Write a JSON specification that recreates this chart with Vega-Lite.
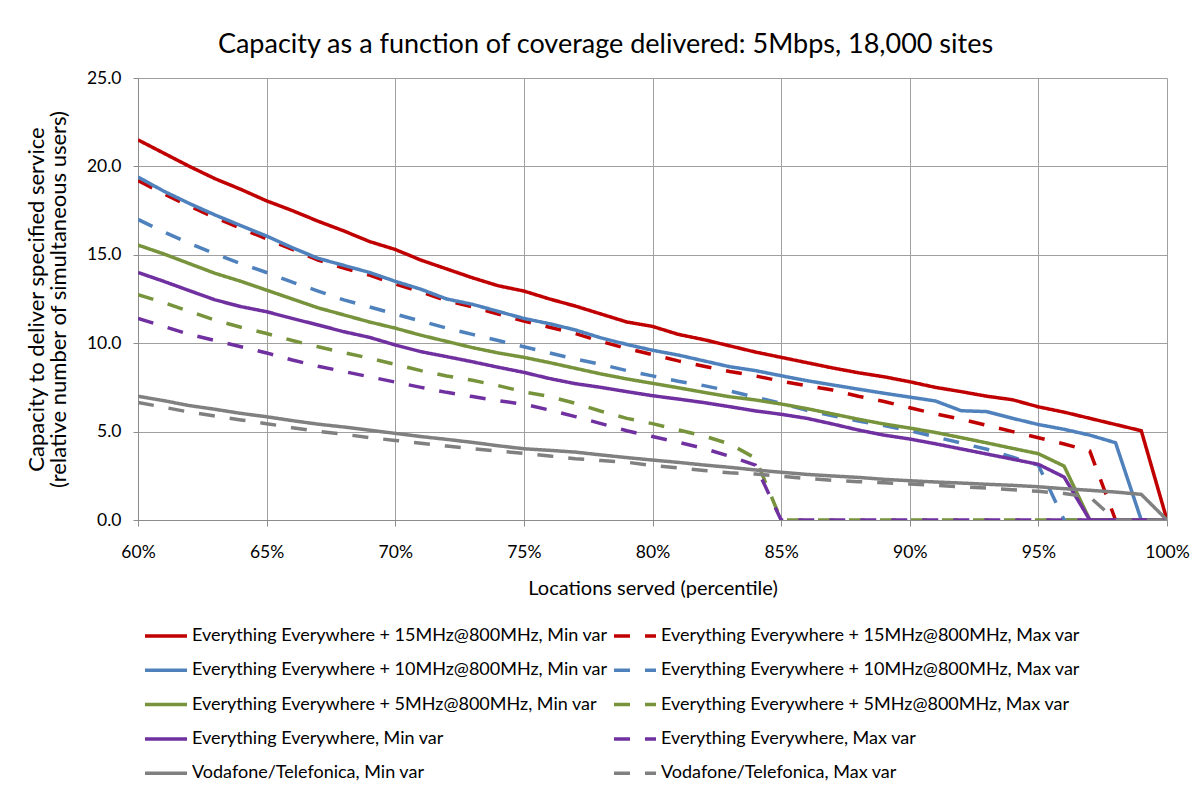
{
  "$schema": "https://vega.github.io/schema/vega-lite/v6.json",
  "width": 1029,
  "height": 442,
  "autosize": "none",
  "padding": {"left": 138, "top": 78, "right": 36, "bottom": 269},
  "background": "white",
  "title": {"text": "Capacity as a function of coverage delivered: 5Mbps, 18,000 sites", "font": "Lato", "fontSize": 27, "fontWeight": "normal", "color": "black", "anchor": "middle", "dx": -47, "offset": 10},
  "datasets": {
    "names": [
      {"key": "s1", "series": "Everything Everywhere + 15MHz@800MHz, Min var"},
      {"key": "s2", "series": "Everything Everywhere + 15MHz@800MHz, Max var"},
      {"key": "s3", "series": "Everything Everywhere + 10MHz@800MHz, Min var"},
      {"key": "s4", "series": "Everything Everywhere + 10MHz@800MHz, Max var"},
      {"key": "s5", "series": "Everything Everywhere + 5MHz@800MHz, Min var"},
      {"key": "s6", "series": "Everything Everywhere + 5MHz@800MHz, Max var"},
      {"key": "s7", "series": "Everything Everywhere, Min var"},
      {"key": "s8", "series": "Everything Everywhere, Max var"},
      {"key": "s9", "series": "Vodafone/Telefonica, Min var"},
      {"key": "s10", "series": "Vodafone/Telefonica, Max var"}
    ]
  },
  "data": {"values": [
    {"p": 60, "s1": 21.5, "s2": 19.2, "s3": 19.4, "s4": 17.0, "s5": 15.55, "s6": 12.75, "s7": 14.0, "s8": 11.4, "s9": 7.0, "s10": 6.65},
    {"p": 61, "s1": 20.75, "s2": 18.45, "s3": 18.6, "s4": 16.3, "s5": 15.05, "s6": 12.3, "s7": 13.5, "s8": 10.95, "s9": 6.75, "s10": 6.38},
    {"p": 62, "s1": 20.0, "s2": 17.75, "s3": 17.9, "s4": 15.65, "s5": 14.5, "s6": 11.8, "s7": 12.97, "s8": 10.5, "s9": 6.47, "s10": 6.1},
    {"p": 63, "s1": 19.3, "s2": 17.1, "s3": 17.25, "s4": 15.05, "s5": 13.95, "s6": 11.3, "s7": 12.45, "s8": 10.15, "s9": 6.26, "s10": 5.88},
    {"p": 64, "s1": 18.7, "s2": 16.5, "s3": 16.65, "s4": 14.5, "s5": 13.5, "s6": 10.9, "s7": 12.07, "s8": 9.8, "s9": 6.03, "s10": 5.66},
    {"p": 65, "s1": 18.05, "s2": 15.9, "s3": 16.06, "s4": 14.0, "s5": 13.0, "s6": 10.55, "s7": 11.78, "s8": 9.45, "s9": 5.84, "s10": 5.45},
    {"p": 66, "s1": 17.5, "s2": 15.3, "s3": 15.4, "s4": 13.45, "s5": 12.5, "s6": 10.15, "s7": 11.4, "s8": 9.05, "s9": 5.62, "s10": 5.22},
    {"p": 67, "s1": 16.9, "s2": 14.7, "s3": 14.8, "s4": 12.95, "s5": 12.0, "s6": 9.8, "s7": 11.03, "s8": 8.7, "s9": 5.42, "s10": 5.02},
    {"p": 68, "s1": 16.35, "s2": 14.25, "s3": 14.4, "s4": 12.45, "s5": 11.6, "s6": 9.47, "s7": 10.65, "s8": 8.4, "s9": 5.26, "s10": 4.85},
    {"p": 69, "s1": 15.75, "s2": 13.85, "s3": 14.0, "s4": 12.05, "s5": 11.2, "s6": 9.15, "s7": 10.33, "s8": 8.1, "s9": 5.08, "s10": 4.66},
    {"p": 70, "s1": 15.3, "s2": 13.35, "s3": 13.5, "s4": 11.65, "s5": 10.85, "s6": 8.8, "s7": 9.9, "s8": 7.8, "s9": 4.9, "s10": 4.5},
    {"p": 71, "s1": 14.7, "s2": 12.9, "s3": 13.05, "s4": 11.25, "s5": 10.45, "s6": 8.45, "s7": 9.52, "s8": 7.5, "s9": 4.72, "s10": 4.34},
    {"p": 72, "s1": 14.2, "s2": 12.4, "s3": 12.5, "s4": 10.85, "s5": 10.1, "s6": 8.15, "s7": 9.24, "s8": 7.22, "s9": 4.56, "s10": 4.18},
    {"p": 73, "s1": 13.7, "s2": 12.05, "s3": 12.2, "s4": 10.5, "s5": 9.75, "s6": 7.9, "s7": 8.95, "s8": 6.98, "s9": 4.39, "s10": 4.03},
    {"p": 74, "s1": 13.25, "s2": 11.65, "s3": 11.8, "s4": 10.15, "s5": 9.45, "s6": 7.6, "s7": 8.64, "s8": 6.75, "s9": 4.2, "s10": 3.9},
    {"p": 75, "s1": 12.95, "s2": 11.25, "s3": 11.4, "s4": 9.8, "s5": 9.2, "s6": 7.25, "s7": 8.35, "s8": 6.55, "s9": 4.03, "s10": 3.77},
    {"p": 76, "s1": 12.5, "s2": 10.9, "s3": 11.1, "s4": 9.45, "s5": 8.9, "s6": 6.98, "s7": 8.0, "s8": 6.22, "s9": 3.94, "s10": 3.62},
    {"p": 77, "s1": 12.1, "s2": 10.55, "s3": 10.75, "s4": 9.1, "s5": 8.58, "s6": 6.6, "s7": 7.71, "s8": 5.85, "s9": 3.84, "s10": 3.47},
    {"p": 78, "s1": 11.65, "s2": 10.1, "s3": 10.3, "s4": 8.8, "s5": 8.26, "s6": 6.15, "s7": 7.5, "s8": 5.45, "s9": 3.68, "s10": 3.36},
    {"p": 79, "s1": 11.2, "s2": 9.7, "s3": 9.93, "s4": 8.45, "s5": 7.98, "s6": 5.75, "s7": 7.26, "s8": 5.05, "s9": 3.53, "s10": 3.27},
    {"p": 80, "s1": 10.95, "s2": 9.35, "s3": 9.6, "s4": 8.15, "s5": 7.73, "s6": 5.45, "s7": 7.03, "s8": 4.72, "s9": 3.39, "s10": 3.08},
    {"p": 81, "s1": 10.5, "s2": 9.0, "s3": 9.33, "s4": 7.85, "s5": 7.48, "s6": 5.1, "s7": 6.84, "s8": 4.4, "s9": 3.26, "s10": 2.95},
    {"p": 82, "s1": 10.2, "s2": 8.7, "s3": 9.0, "s4": 7.6, "s5": 7.22, "s6": 4.75, "s7": 6.64, "s8": 4.05, "s9": 3.11, "s10": 2.8},
    {"p": 83, "s1": 9.85, "s2": 8.4, "s3": 8.67, "s4": 7.3, "s5": 6.97, "s6": 4.3, "s7": 6.41, "s8": 3.6, "s9": 2.98, "s10": 2.67},
    {"p": 84, "s1": 9.5, "s2": 8.15, "s3": 8.45, "s4": 6.95, "s5": 6.79, "s6": 3.5, "s7": 6.17, "s8": 3.1, "s9": 2.83, "s10": 2.6},
    {"p": 85, "s1": 9.2, "s2": 7.85, "s3": 8.16, "s4": 6.6, "s5": 6.56, "s6": 0, "s7": 5.98, "s8": 0, "s9": 2.7, "s10": 2.47},
    {"p": 86, "s1": 8.9, "s2": 7.6, "s3": 7.88, "s4": 6.2, "s5": 6.3, "s6": 0, "s7": 5.75, "s8": 0, "s9": 2.58, "s10": 2.35},
    {"p": 87, "s1": 8.6, "s2": 7.35, "s3": 7.64, "s4": 5.9, "s5": 6.0, "s6": 0, "s7": 5.43, "s8": 0, "s9": 2.49, "s10": 2.24},
    {"p": 88, "s1": 8.33, "s2": 7.0, "s3": 7.4, "s4": 5.6, "s5": 5.7, "s6": 0, "s7": 5.09, "s8": 0, "s9": 2.41, "s10": 2.17},
    {"p": 89, "s1": 8.1, "s2": 6.7, "s3": 7.17, "s4": 5.35, "s5": 5.43, "s6": 0, "s7": 4.8, "s8": 0, "s9": 2.3, "s10": 2.1},
    {"p": 90, "s1": 7.82, "s2": 6.35, "s3": 6.95, "s4": 5.05, "s5": 5.2, "s6": 0, "s7": 4.58, "s8": 0, "s9": 2.22, "s10": 2.03},
    {"p": 91, "s1": 7.5, "s2": 6.0, "s3": 6.73, "s4": 4.7, "s5": 4.95, "s6": 0, "s7": 4.31, "s8": 0, "s9": 2.15, "s10": 1.96},
    {"p": 92, "s1": 7.26, "s2": 5.7, "s3": 6.18, "s4": 4.35, "s5": 4.66, "s6": 0, "s7": 4.02, "s8": 0, "s9": 2.09, "s10": 1.88},
    {"p": 93, "s1": 7.0, "s2": 5.35, "s3": 6.13, "s4": 4.0, "s5": 4.36, "s6": 0, "s7": 3.73, "s8": 0, "s9": 2.02, "s10": 1.81},
    {"p": 94, "s1": 6.8, "s2": 5.0, "s3": 5.75, "s4": 3.55, "s5": 4.05, "s6": 0, "s7": 3.44, "s8": 0, "s9": 1.96, "s10": 1.71},
    {"p": 95, "s1": 6.4, "s2": 4.65, "s3": 5.4, "s4": 3.1, "s5": 3.75, "s6": 0, "s7": 3.15, "s8": 0, "s9": 1.88, "s10": 1.62},
    {"p": 96, "s1": 6.1, "s2": 4.3, "s3": 5.13, "s4": 0, "s5": 3.05, "s6": 0, "s7": 2.43, "s8": 0, "s9": 1.77, "s10": 1.5},
    {"p": 97, "s1": 5.75, "s2": 3.9, "s3": 4.8, "s4": 0, "s5": 0, "s6": 0, "s7": 0, "s8": 0, "s9": 1.68, "s10": 1.3},
    {"p": 98, "s1": 5.4, "s2": 0, "s3": 4.37, "s4": 0, "s5": 0, "s6": 0, "s7": 0, "s8": 0, "s9": 1.58, "s10": 0},
    {"p": 99, "s1": 5.05, "s2": 0, "s3": 0, "s4": 0, "s5": 0, "s6": 0, "s7": 0, "s8": 0, "s9": 1.45, "s10": 0},
    {"p": 100, "s1": 0, "s2": 0, "s3": 0, "s4": 0, "s5": 0, "s6": 0, "s7": 0, "s8": 0, "s9": 0, "s10": 0}
  ]},
  "transform": [
    {"fold": ["s1", "s2", "s3", "s4", "s5", "s6", "s7", "s8", "s9", "s10"], "as": ["key", "value"]},
    {"lookup": "key", "from": {"data": {"name": "names"}, "key": "key", "fields": ["series"]}}
  ],
  "mark": {"type": "line", "strokeWidth": 3.5, "clip": true},
  "encoding": {
    "x": {
      "field": "p", "type": "quantitative",
      "scale": {"domain": [60, 100], "nice": false, "zero": false},
      "axis": {"values": [60, 65, 70, 75, 80, 85, 90, 95, 100], "labelExpr": "datum.value + '%'", "labelFlush": false, "labelOverlap": false, "title": "Locations served (percentile)", "titleFontSize": 20, "titlePadding": 18, "labelPadding": 17, "tickSize": 6}
    },
    "y": {
      "field": "value", "type": "quantitative",
      "scale": {"domain": [0, 25], "nice": false},
      "axis": {"values": [0, 5, 10, 15, 20, 25], "format": ".1f", "labelFlush": false, "labelOverlap": false, "title": ["Capacity to deliver specified service", "(relative number of simultaneous users)"], "titleFontSize": 22, "titleLineHeight": 22, "titlePadding": 16, "labelPadding": 12, "tickSize": 5}
    },
    "color": {
      "field": "series", "type": "nominal",
      "scale": {
        "domain": ["Everything Everywhere + 15MHz@800MHz, Min var", "Everything Everywhere + 15MHz@800MHz, Max var", "Everything Everywhere + 10MHz@800MHz, Min var", "Everything Everywhere + 10MHz@800MHz, Max var", "Everything Everywhere + 5MHz@800MHz, Min var", "Everything Everywhere + 5MHz@800MHz, Max var", "Everything Everywhere, Min var", "Everything Everywhere, Max var", "Vodafone/Telefonica, Min var", "Vodafone/Telefonica, Max var"],
        "range": ["#C00000", "#C00000", "#4F81BD", "#4F81BD", "#77933C", "#77933C", "#7030A0", "#7030A0", "#808080", "#808080"]
      },
      "legend": {"orient": "none", "direction": "horizontal", "legendX": 5, "legendY": 535, "columns": 2, "title": null, "rowPadding": 2.3, "columnPadding": -1}
    },
    "strokeDash": {
      "field": "series", "type": "nominal",
      "scale": {
        "domain": ["Everything Everywhere + 15MHz@800MHz, Min var", "Everything Everywhere + 15MHz@800MHz, Max var", "Everything Everywhere + 10MHz@800MHz, Min var", "Everything Everywhere + 10MHz@800MHz, Max var", "Everything Everywhere + 5MHz@800MHz, Min var", "Everything Everywhere + 5MHz@800MHz, Max var", "Everything Everywhere, Min var", "Everything Everywhere, Max var", "Vodafone/Telefonica, Min var", "Vodafone/Telefonica, Max var"],
        "range": [[1, 0], [16, 15], [1, 0], [16, 15], [1, 0], [16, 15], [1, 0], [16, 15], [1, 0], [16, 15]]
      },
      "legend": {"orient": "none", "direction": "horizontal", "legendX": 5, "legendY": 535, "columns": 2, "title": null, "rowPadding": 2.3, "columnPadding": -1}
    }
  },
  "config": {
    "font": "Lato",
    "view": {"stroke": null},
    "axis": {
      "grid": true, "gridColor": "#A0A0A0", "gridWidth": 1,
      "domainColor": "#8C8C8C", "tickColor": "#8C8C8C",
      "labelFont": "Lato", "labelFontSize": 17.5, "labelColor": "black",
      "titleFont": "Lato", "titleFontSize": 19, "titleFontWeight": "normal", "titleColor": "black"
    },
    "legend": {
      "symbolType": "stroke", "symbolSize": 1764, "symbolStrokeWidth": 3.5,
      "labelFont": "Lato", "labelFontSize": 18, "labelColor": "black", "labelLimit": 700,
      "labelOffset": 3, "rowPadding": 2.3, "columnPadding": -1, "gridAlign": "each"
    }
  }
}
